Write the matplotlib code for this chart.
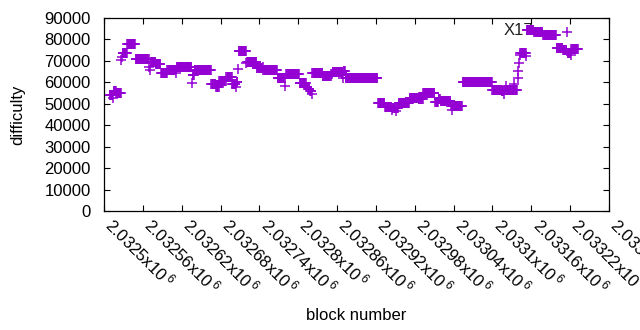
import numpy as np
import matplotlib
matplotlib.use("Agg")
import matplotlib.pyplot as plt
import matplotlib.transforms as mtransforms

plt.rcParams['font.family'] = ['Liberation Sans', 'DejaVu Sans']
plt.rcParams['mathtext.fontset'] = 'custom'
plt.rcParams['mathtext.rm'] = 'Liberation Sans'
plt.rcParams['mathtext.it'] = 'Liberation Sans'

# first block number of the series (consecutive blocks)
start_block = 2032509

# difficulty values, as runs of equal difficulty
run_values = [54300, 52800, 56000, 55000, 70400, 71800, 73500, 77700, 70800, 67300,
              65800, 69600, 68700, 64500, 65800, 64500, 67000, 59800, 63200, 65800,
              59300, 57600, 60600, 62700, 59400, 57900, 60300, 66000, 74400, 69000,
              69500, 66500, 67200, 65600, 62200, 58300, 63700, 59500, 58000, 57000,
              56000, 54500, 64300, 62800, 64000, 64800, 62000, 65300, 62000, 50300,
              48700, 47000, 48000, 46500, 48200, 50300, 52600, 52100, 55000, 51000,
              52200, 51300, 48800, 47300, 48800, 60000, 56400, 56000, 54600, 56200,
              58400, 56300, 59200, 56300, 62000, 65200, 69000, 72800, 73800, 72500,
              84300, 83300, 82200, 75900, 74900, 83300, 73900, 72800, 75400]
run_lengths = [5, 1, 4, 8, 1, 1, 7, 13, 21, 1,
               1, 8, 8, 10, 13, 1, 24, 1, 3, 26,
               7, 5, 11, 9, 6, 1, 2, 1, 12, 1,
               15, 9, 1, 22, 12, 1, 21, 11, 2, 3,
               3, 1, 16, 13, 2, 16, 1, 3, 50, 11,
               11, 1, 5, 1, 3, 17, 14, 7, 18, 6,
               3, 16, 2, 1, 15, 46, 14, 4, 1, 2,
               1, 12, 1, 4, 1, 1, 1, 1, 9, 1,
               11, 14, 21, 10, 6, 1, 5, 1, 11]

# annotation
label_text = "X17"
label_run = 80  # index of the run whose first block is labelled

x_ticks = [2032500 + 60 * i for i in range(14)]
x_tick_labels = ["2.0325", "2.03256", "2.03262", "2.03268", "2.03274", "2.0328",
                 "2.03286", "2.03292", "2.03298", "2.03304", "2.0331", "2.03316",
                 "2.03322", "2.03328"]
y_ticks = [0, 10000, 20000, 30000, 40000, 50000, 60000, 70000, 80000, 90000]

difficulty = np.repeat(run_values, run_lengths)
blocks = start_block + np.arange(len(difficulty))

FS = 12
fig = plt.figure(figsize=(6.4, 3.3), dpi=100)
ax = fig.add_axes([0.1625, 0.3606, 0.7891, 0.5849])

color = '#9400D3'
ax.plot(blocks, difficulty, linestyle='none', marker='+', markersize=6.5,
        markeredgewidth=1.1, color=color, zorder=3)

lb_block = start_block + sum(run_lengths[:label_run])
ax.annotate(label_text, xy=(lb_block, run_values[label_run]), xytext=(5, 0),
            textcoords='offset points', ha='right', va='center', fontsize=FS,
            zorder=1, color='#222222')

ax.set_xlim(2032500, 2033280)
ax.set_ylim(0, 90000)
ax.set_xticks(x_ticks)
ax.set_xticklabels([])
shift = mtransforms.ScaledTranslation(12 / 100, -3 / 100, fig.dpi_scale_trans)
xtrans = ax.get_xaxis_transform() + shift
for t, lab in zip(x_ticks, x_tick_labels):
    ax.text(t, 0, lab + r"x10$\,^{\mathrm{6}}$", transform=xtrans,
            rotation=-45, ha='left', va='top', rotation_mode='anchor',
            fontsize=FS, clip_on=False)
ax.set_yticks(y_ticks)
ax.set_yticklabels([str(v) for v in y_ticks], fontsize=FS)
ax.tick_params(direction='in', length=4, width=0.8, top=True, right=True, pad=6)
ax.tick_params(axis='y', pad=9.5)
for s in ax.spines.values():
    s.set_linewidth(0.9)

ax.set_ylabel('difficulty', fontsize=FS, labelpad=14)
ax.set_xlabel('block number', fontsize=FS)
ax.xaxis.set_label_coords(0.5, -0.50)

fig.savefig('out.png', dpi=100)
